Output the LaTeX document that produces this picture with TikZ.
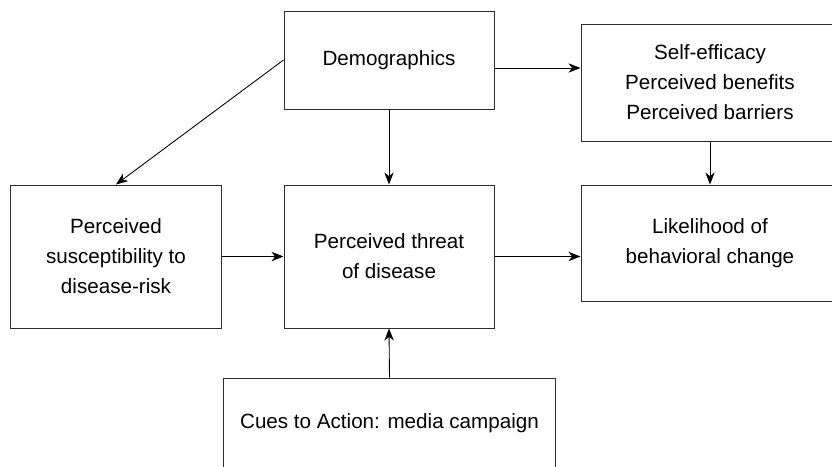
\documentclass[tikz,border=0pt]{standalone}
\usepackage{fontspec}
\setmainfont{Liberation Sans}
\usetikzlibrary{arrows.meta,positioning}
\definecolor{EdgeGray}{RGB}{45,45,45}
\tikzset{
  factor/.style={draw=EdgeGray,line width=0.85pt,fill=white,align=center,
    inner sep=2pt,font=\fontsize{17.6}{25.6}\selectfont},
  arrow/.style={-{Stealth[length=3.6mm,width=2.8mm,inset=1.1mm]},line width=0.75pt,black}
}
\begin{document}
\begin{tikzpicture}[x=0.03cm,y=-0.03cm]
  \clip (0,0) rectangle (832,466);
  % top row
  \node[factor,minimum width=6.3cm,minimum height=2.94cm] (demo) at (389,60) {Demographics};
  \node[factor,minimum width=7.74cm,minimum height=3.51cm] (self) at (710,82.5)
    {Self-efficacy\\Perceived benefits\\Perceived barriers};
  % middle row
  \node[factor,minimum width=6.3cm,minimum height=4.29cm] (susc) at (116,256.5)
    {Perceived\\susceptibility to\\disease-risk};
  \node[factor,minimum width=6.3cm,minimum height=4.29cm] (threat) at (389,256.5)
    {Perceived threat\\of disease};
  \node[factor,minimum width=7.74cm,minimum height=3.48cm] (like) at (710,243)
    {Likelihood of\\behavioral change};
  % bottom
  \node[factor,minimum width=9.93cm,minimum height=2.7cm] (cues) at (389.5,423)
    {Cues to Action: media campaign};
  % connectors
  \coordinate (d1) at ([yshift=-0.24cm]demo.east);
  \draw[arrow] (demo.west) -- (susc.north);
  \draw[arrow] (demo.south) -- (threat.north);
  \draw[arrow] (d1) -- (d1 -| self.west);
  \draw[arrow] (self.south) -- (like.north);
  \draw[arrow] (susc.east) -- (threat.west);
  \draw[arrow] (threat.east) -- (threat.east -| like.west);
  \draw[arrow] (cues.north) -- (threat.south);
\end{tikzpicture}
\end{document}
